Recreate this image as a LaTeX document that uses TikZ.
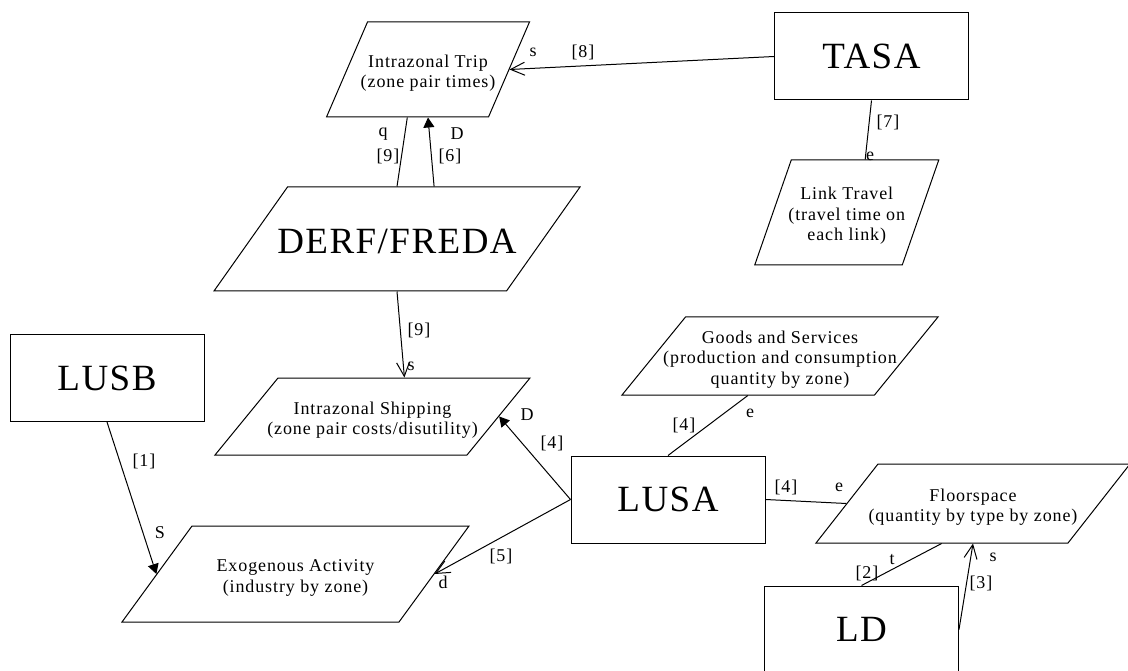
\documentclass[tikz,border=0pt]{standalone}
\usepackage{fontspec}
\setmainfont{Liberation Serif}
\newfontfamily\boxfam[LetterSpace=4]{Liberation Serif}
\newfontfamily\txtfam[LetterSpace=5]{Liberation Serif}
\usetikzlibrary{shapes.geometric,arrows.meta}
\newcommand{\inbox}[2][-8pt]{\smash{\makebox[0pt]{\raisebox{#1}{\begin{tabular}{@{}c@{}}#2\end{tabular}}}}}

\begin{document}
\begin{tikzpicture}[x=1pt,y=1pt,yscale=-1,xscale=1,line width=1pt,
  module/.style={draw,rectangle,minimum width=194pt,minimum height=87pt,inner sep=0pt,font={\boxfam\fontsize{37}{42}\selectfont}},
  data/.style={draw,trapezium,font={\txtfam\fontsize{18}{20.5}\selectfont}},
  tag/.style={inner sep=0pt,font={\txtfam\fontsize{18}{20.5}\selectfont}},
  fill tip/.style={-{Triangle[length=10pt,width=11pt]}},
  open tip/.style={-{Straight Barb[length=14pt,width=13pt]}}]
\useasboundingbox (0,0) rectangle (1128,671);
%Modules
\node[module] (tasa) at (871.5,56.5) {TASA};
\node[module] (lusb) at (107,378) {LUSB};
\node[module] (lusa) at (668,499.5) {LUSA};
\node[module] (ld) at (861.5,629.5) {LD};
%Data
\node[data,trapezium left angle=66.66,trapezium right angle=113.34,inner xsep=60.5pt,inner ysep=47.5pt] (trip) at (428,69.5) {\inbox{Intrazonal Trip\\(zone pair times)}};
\node[data,trapezium left angle=54.75,trapezium right angle=125.25,inner xsep=109.5pt,inner ysep=52pt,font={\boxfam\fontsize{37}{42}\selectfont}] (derf) at (397,239) {\inbox[-12pt]{DERF/FREDA}};
\node[data,trapezium left angle=50.71,trapezium right angle=129.29,inner xsep=94.5pt,inner ysep=38.5pt] (ship) at (372.5,416.5) {\inbox{Intrazonal Shipping\\(zone pair costs/disutility)}};
\node[data,trapezium left angle=53.9,trapezium right angle=126.1,inner xsep=103.5pt,inner ysep=48pt] (exo) at (295.5,574) {\inbox{Exogenous Activity\\(industry by zone)}};
\node[data,trapezium left angle=50.85,trapezium right angle=129.15,inner xsep=94.5pt,inner ysep=39pt] (goods) at (780,356) {\inbox{Goods and Services\\(production and consumption\\quantity by zone)}};
\node[data,trapezium left angle=51.88,trapezium right angle=128.12,inner xsep=95pt,inner ysep=39.5pt] (floor) at (973,503.5) {\inbox{Floorspace\\(quantity by type by zone)}};
\node[data,trapezium left angle=70.83,trapezium right angle=109.17,inner xsep=55.5pt,inner ysep=52.5pt] (link) at (846.75,212.5) {\inbox{Link Travel\\(travel time on\\each link)}};
%Links
\draw[open tip] (tasa.west) -- (trip.east);
\draw (tasa.south) -- (link.top side);
\draw (derf.north) -- (trip.bottom side);
\draw[fill tip] (derf.top side) -- (trip.south);
\draw[open tip] (derf.south) -- (ship.top side);
\draw[fill tip] (lusa.west) -- (ship.east);
\draw[open tip] (lusa.west) -- (exo.east);
\draw[fill tip] (lusb.south) -- (exo.west);
\draw (lusa.north) -- (goods.bottom side);
\draw (lusa.east) -- (floor.west);
\draw (ld.north) -- (floor.bottom side);
\draw[open tip] (ld.east) -- (floor.south);
%Text
\node[tag] (let8) at (533,52) {s};
\node[tag] (num8) at (583,52) {[8]};
\node[tag] (let9a) at (383,134) {q};
\node[tag] (num9a) at (388,156) {[9]};
\node[tag] (let6) at (457,134) {D};
\node[tag] (num6) at (450,156) {[6]};
\node[tag] (num7) at (888,122) {[7]};
\node[tag] (let7) at (870,156) {e};
\node[tag] (num9b) at (419,330) {[9]};
\node[tag] (let9b) at (411,366) {s};
\node[tag] (let4a) at (527,415) {D};
\node[tag] (num4a) at (552,443) {[4]};
\node[tag] (num1) at (144,461) {[1]};
\node[tag] (let1) at (160,533) {S};
\node[tag] (num5) at (501,556) {[5]};
\node[tag] (let5) at (443,582) {d};
\node[tag] (num4b) at (684,425) {[4]};
\node[tag] (let4b) at (750,413) {e};
\node[tag] (num4c) at (786,487) {[4]};
\node[tag] (let4c) at (839,487) {e};
\node[tag] (num2) at (867,573) {[2]};
\node[tag] (let2) at (892,560) {t};
\node[tag] (num3) at (981,583) {[3]};
\node[tag] (let3) at (993,557) {s};
\end{tikzpicture}
\end{document}
